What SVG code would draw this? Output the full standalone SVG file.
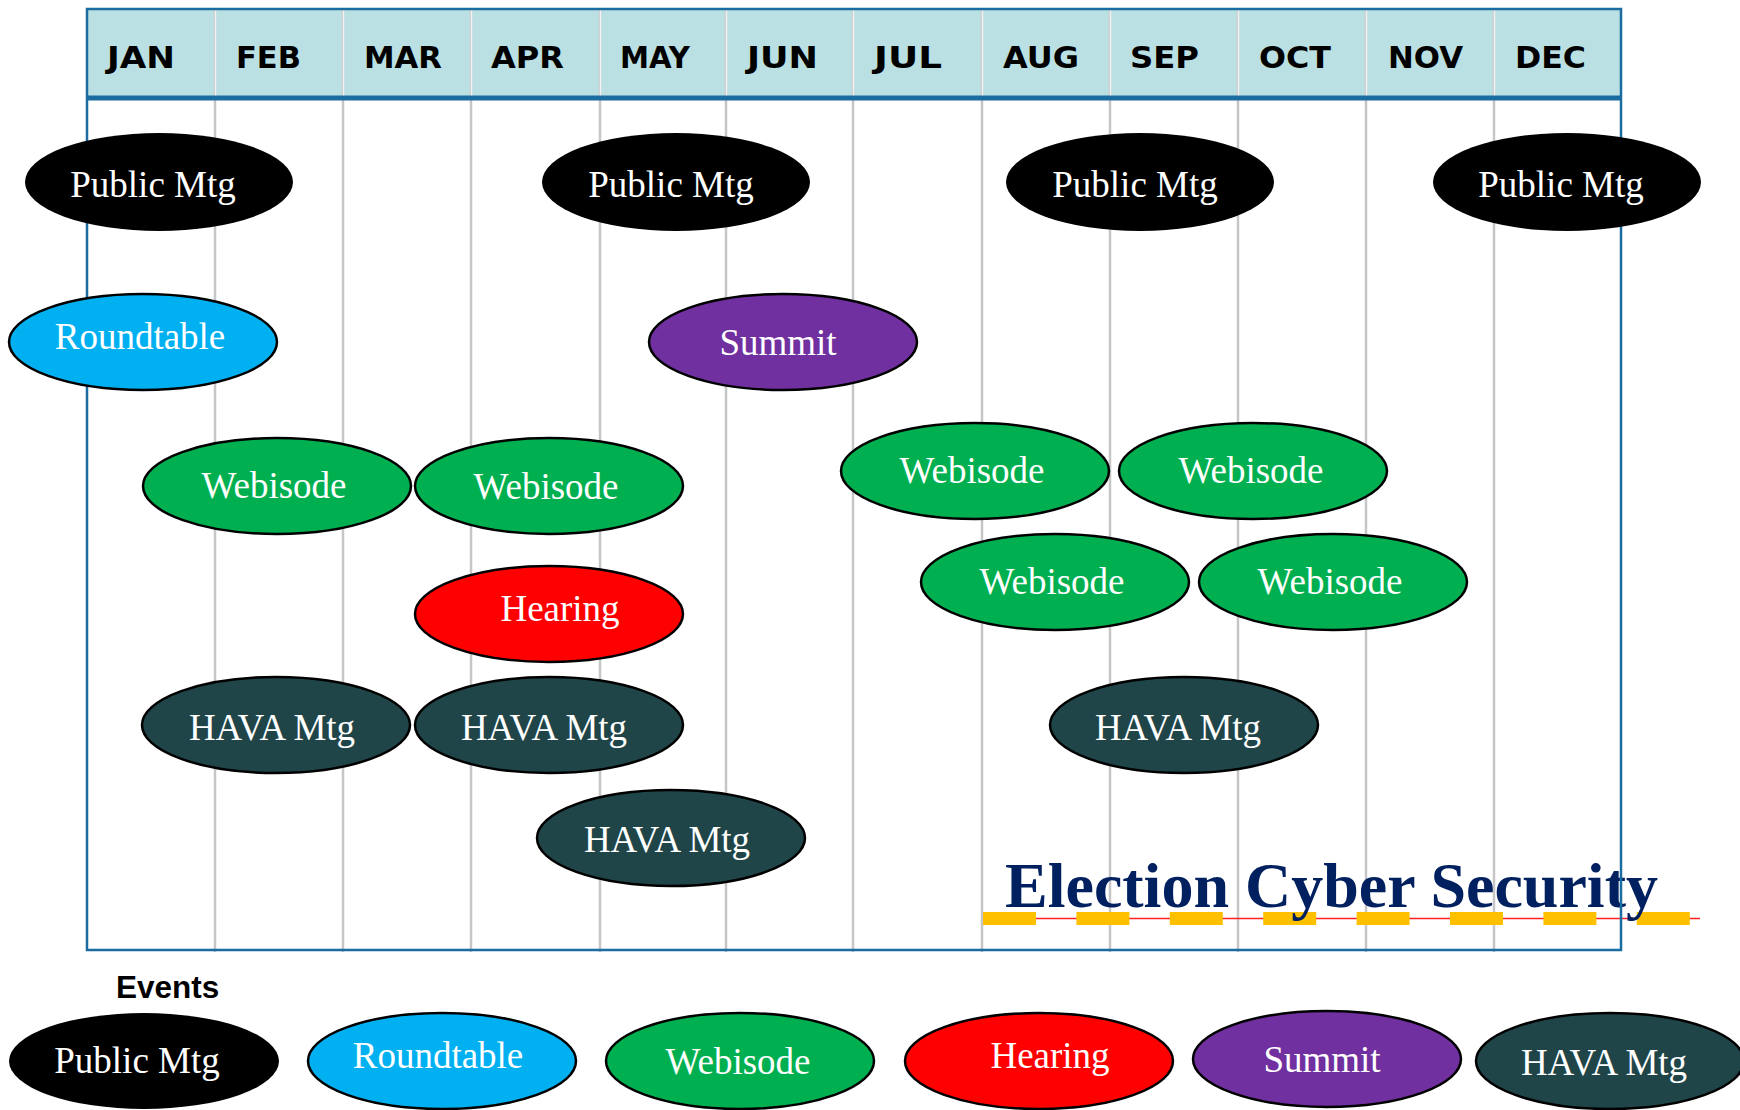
<svg xmlns="http://www.w3.org/2000/svg" width="1740" height="1110" viewBox="0 0 1740 1110">
<style>
.mon{font-family:"DejaVu Sans","Liberation Sans",sans-serif;font-weight:bold;font-size:30px;fill:#000}
.grid{stroke:#C6C6C6;stroke-width:2.5}
.hsep{stroke:#F2F2F2;stroke-width:1.5}
.lbl{font-family:"Liberation Serif","Times New Roman",serif;font-size:37px;fill:#fff;text-anchor:middle}
.pub{fill:#000}
.rt{fill:#00B0F0;stroke:#000;stroke-width:2.5}
.web{fill:#00B050;stroke:#000;stroke-width:2.5}
.hear{fill:#FF0000;stroke:#000;stroke-width:2.5}
.sum{fill:#7030A0;stroke:#000;stroke-width:2.5}
.hava{fill:#1F4549;stroke:#000;stroke-width:2.5}
.frame{fill:none;stroke:#1B6CA0;stroke-width:2.5}
</style>
<rect x="0" y="0" width="1740" height="1110" fill="#fff"/>
<g id="header">
<rect x="87" y="9" width="1534" height="89" fill="#BAE0E4"/>
</g>
<g id="gridlines">
<line class="grid" x1="215" y1="9" x2="215" y2="952"/>
<line class="grid" x1="343" y1="9" x2="343" y2="952"/>
<line class="grid" x1="471" y1="9" x2="471" y2="952"/>
<line class="grid" x1="600" y1="9" x2="600" y2="952"/>
<line class="grid" x1="726" y1="9" x2="726" y2="952"/>
<line class="grid" x1="853" y1="9" x2="853" y2="952"/>
<line class="grid" x1="982" y1="9" x2="982" y2="952"/>
<line class="grid" x1="1110" y1="9" x2="1110" y2="952"/>
<line class="grid" x1="1238" y1="9" x2="1238" y2="952"/>
<line class="grid" x1="1366" y1="9" x2="1366" y2="952"/>
<line class="grid" x1="1494" y1="9" x2="1494" y2="952"/>
<g class="hsep">
<line x1="215.5" y1="10" x2="215.5" y2="96"/>
<line x1="343.5" y1="10" x2="343.5" y2="96"/>
<line x1="471.5" y1="10" x2="471.5" y2="96"/>
<line x1="600.5" y1="10" x2="600.5" y2="96"/>
<line x1="726.5" y1="10" x2="726.5" y2="96"/>
<line x1="853.5" y1="10" x2="853.5" y2="96"/>
<line x1="982.5" y1="10" x2="982.5" y2="96"/>
<line x1="1110.5" y1="10" x2="1110.5" y2="96"/>
<line x1="1238.5" y1="10" x2="1238.5" y2="96"/>
<line x1="1366.5" y1="10" x2="1366.5" y2="96"/>
<line x1="1494.5" y1="10" x2="1494.5" y2="96"/>
</g>
</g>
<g id="months">
<text class="mon" x="107" y="68" textLength="68" lengthAdjust="spacingAndGlyphs">JAN</text>
<text class="mon" x="236" y="68" textLength="65" lengthAdjust="spacingAndGlyphs">FEB</text>
<text class="mon" x="364" y="68" textLength="78" lengthAdjust="spacingAndGlyphs">MAR</text>
<text class="mon" x="491" y="68" textLength="73" lengthAdjust="spacingAndGlyphs">APR</text>
<text class="mon" x="620" y="68" textLength="70" lengthAdjust="spacingAndGlyphs">MAY</text>
<text class="mon" x="747" y="68" textLength="71" lengthAdjust="spacingAndGlyphs">JUN</text>
<text class="mon" x="874" y="68" textLength="68" lengthAdjust="spacingAndGlyphs">JUL</text>
<text class="mon" x="1003" y="68" textLength="76" lengthAdjust="spacingAndGlyphs">AUG</text>
<text class="mon" x="1130" y="68" textLength="69" lengthAdjust="spacingAndGlyphs">SEP</text>
<text class="mon" x="1259" y="68" textLength="72" lengthAdjust="spacingAndGlyphs">OCT</text>
<text class="mon" x="1388" y="68" textLength="75" lengthAdjust="spacingAndGlyphs">NOV</text>
<text class="mon" x="1515" y="68" textLength="71" lengthAdjust="spacingAndGlyphs">DEC</text>
</g>
<g id="title">
<line x1="983" y1="918.5" x2="1700" y2="918.5" stroke="#FF2020" stroke-width="1.5"/>
<line x1="983" y1="918.5" x2="1700" y2="918.5" stroke="#FFC000" stroke-width="13" stroke-dasharray="53 40.4"/>
<text x="1005" y="907" font-family="'Liberation Serif','Times New Roman',serif" font-weight="bold" font-size="64" fill="#002060">Election Cyber Security</text>
</g>
<g id="frame">
<rect class="frame" x="87" y="9" width="1534" height="941"/>
<line x1="87" y1="98" x2="1621" y2="98" stroke="#1B6CA0" stroke-width="5"/>
</g>
<g id="connectors"></g>
<g id="pub-jan"><ellipse class="pub" cx="159" cy="182" rx="134" ry="49"/><text class="lbl" x="153" y="197">Public Mtg</text></g>
<g id="pub-may"><ellipse class="pub" cx="676" cy="182" rx="134" ry="49"/><text class="lbl" x="671" y="197">Public Mtg</text></g>
<g id="pub-aug"><ellipse class="pub" cx="1140" cy="182" rx="134" ry="49"/><text class="lbl" x="1135" y="197">Public Mtg</text></g>
<g id="pub-dec"><ellipse class="pub" cx="1567" cy="182" rx="134" ry="49"/><text class="lbl" x="1561" y="197">Public Mtg</text></g>
<g id="roundtable-jan"><ellipse class="rt" cx="143" cy="342" rx="134" ry="48"/><text class="lbl" x="140" y="349">Roundtable</text></g>
<g id="summit-may"><ellipse class="sum" cx="783" cy="342" rx="134" ry="48"/><text class="lbl" x="778" y="355">Summit</text></g>
<g id="web-feb"><ellipse class="web" cx="277" cy="486" rx="134" ry="48"/><text class="lbl" x="274" y="498">Webisode</text></g>
<g id="web-apr"><ellipse class="web" cx="549" cy="486" rx="134" ry="48"/><text class="lbl" x="546" y="499">Webisode</text></g>
<g id="web-jul"><ellipse class="web" cx="975" cy="471" rx="134" ry="48"/><text class="lbl" x="972" y="483">Webisode</text></g>
<g id="web-sep"><ellipse class="web" cx="1253" cy="471" rx="134" ry="48"/><text class="lbl" x="1251" y="483">Webisode</text></g>
<g id="web-aug"><ellipse class="web" cx="1055" cy="582" rx="134" ry="48"/><text class="lbl" x="1052" y="594">Webisode</text></g>
<g id="web-oct"><ellipse class="web" cx="1333" cy="582" rx="134" ry="48"/><text class="lbl" x="1330" y="594">Webisode</text></g>
<g id="hearing-apr"><ellipse class="hear" cx="549" cy="614" rx="134" ry="48"/><text class="lbl" x="560" y="621">Hearing</text></g>
<g id="hava-feb"><ellipse class="hava" cx="276" cy="725" rx="134" ry="48"/><text class="lbl" x="272" y="740">HAVA Mtg</text></g>
<g id="hava-apr"><ellipse class="hava" cx="549" cy="725" rx="134" ry="48"/><text class="lbl" x="544" y="740">HAVA Mtg</text></g>
<g id="hava-sep"><ellipse class="hava" cx="1184" cy="725" rx="134" ry="48"/><text class="lbl" x="1178" y="740">HAVA Mtg</text></g>
<g id="hava-may"><ellipse class="hava" cx="671" cy="838" rx="134" ry="48"/><text class="lbl" x="667" y="852">HAVA Mtg</text></g>
<g id="legend">
<text x="116" y="998" font-family="'Liberation Sans',Arial,sans-serif" font-weight="bold" font-size="31.5" fill="#000">Events</text>
<g id="leg-pub"><ellipse class="pub" cx="144" cy="1061" rx="135" ry="48"/><text class="lbl" x="137" y="1073">Public Mtg</text></g>
<g id="leg-rt"><ellipse class="rt" cx="442" cy="1061" rx="134" ry="48"/><text class="lbl" x="438" y="1068">Roundtable</text></g>
<g id="leg-web"><ellipse class="web" cx="740" cy="1061" rx="134" ry="48"/><text class="lbl" x="738" y="1074">Webisode</text></g>
<g id="leg-hear"><ellipse class="hear" cx="1039" cy="1061" rx="134" ry="48"/><text class="lbl" x="1050" y="1068">Hearing</text></g>
<g id="leg-sum"><ellipse class="sum" cx="1327" cy="1059" rx="134" ry="48"/><text class="lbl" x="1322" y="1072">Summit</text></g>
<g id="leg-hava"><ellipse class="hava" cx="1610" cy="1061" rx="134" ry="48"/><text class="lbl" x="1604" y="1075">HAVA Mtg</text></g>
</g>
</svg>
